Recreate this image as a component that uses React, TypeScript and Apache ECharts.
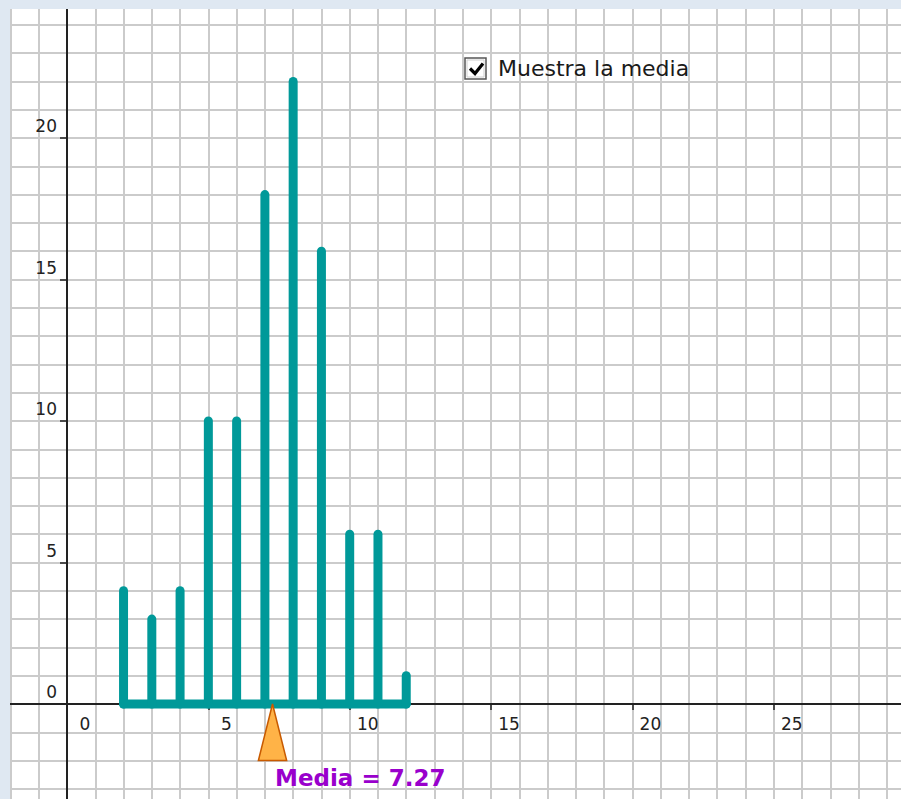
import React, { useEffect, useRef } from 'react';
import * as echarts from 'echarts';

// ---- data ----
const values = [2, 3, 4, 5, 6, 7, 8, 9, 10, 11, 12];
const counts = [4, 3, 4, 10, 10, 18, 22, 16, 6, 6, 1];
const xTickLabels = [0, 5, 10, 15, 20, 25];
const yTickLabels = [0, 5, 10, 15, 20];
const checkboxLabel = 'Muestra la media';
const meanLabelPrefix = 'Media = ';

// ---- layout ----
const W = 901;
const H = 799;
const ORIGIN_X = 67;
const ORIGIN_Y = 704;
const UX = 28.27;
const UY = 28.3;
const X_MIN = -5;
const X_MAX = 30;
const Y_MIN = -5;
const Y_MAX = 25;

const TEAL = '#009999';
const GRID_COLOR = '#cbcbcb';
const AXIS_COLOR = '#222222';
const FRAME = '#dfe8f2';
const FONT = 'DejaVu Sans';

export default function App() {
  const ref = useRef<HTMLDivElement>(null);

  useEffect(() => {
    if (!ref.current) return;
    const chart = echarts.init(ref.current, undefined, { renderer: 'svg' });

    const total = counts.reduce((a, b) => a + b, 0);
    const mean = values.reduce((s, v, i) => s + v * counts[i], 0) / total;
    const barData = values.map((v, i) => [v, counts[i]]);
    const baseData = [
      [Math.min(...values), 0],
      [Math.max(...values), 0],
    ];

    const gridLine = { show: true, lineStyle: { color: GRID_COLOR, width: 2 } };
    const labelStyle = { fill: AXIS_COLOR, font: `17px "${FONT}"` };

    const option: any = {
      animation: false,
      backgroundColor: '#ffffff',
      grid: {
        left: ORIGIN_X + X_MIN * UX,
        top: ORIGIN_Y - Y_MAX * UY,
        width: (X_MAX - X_MIN) * UX,
        height: (Y_MAX - Y_MIN) * UY,
        containLabel: false,
        outerBoundsMode: 'none',
      },
      xAxis: {
        type: 'value',
        min: X_MIN,
        max: X_MAX,
        interval: 5,
        axisLine: { show: true, onZero: true, lineStyle: { color: AXIS_COLOR, width: 2 } },
        axisTick: { show: true, length: 6, lineStyle: { color: AXIS_COLOR, width: 1.5 } },
        minorTick: { show: false, splitNumber: 5 },
        splitLine: gridLine,
        minorSplitLine: gridLine,
        axisLabel: { show: false },
      },
      yAxis: {
        type: 'value',
        min: Y_MIN,
        max: Y_MAX,
        interval: 5,
        axisLine: { show: true, onZero: true, lineStyle: { color: AXIS_COLOR, width: 2 } },
        axisTick: { show: true, length: 7, lineStyle: { color: AXIS_COLOR, width: 1.5 } },
        minorTick: { show: false, splitNumber: 5 },
        splitLine: gridLine,
        minorSplitLine: gridLine,
        axisLabel: { show: false },
      },
      series: [
        {
          type: 'line',
          data: baseData,
          symbol: 'none',
          silent: true,
          z: 3,
          lineStyle: { color: TEAL, width: 9, cap: 'round' },
        },
        {
          type: 'custom',
          data: barData,
          z: 4,
          silent: true,
          renderItem: (params: any, api: any) => {
            const x = api.value(0);
            const y = api.value(1);
            const p0 = api.coord([x, 0]);
            const p1 = api.coord([x, y]);
            return {
              type: 'line',
              shape: { x1: p0[0], y1: p0[1], x2: p1[0], y2: p1[1] },
              style: { stroke: TEAL, lineWidth: 9, lineCap: 'round' },
            };
          },
        },
        {
          // x-axis tick labels
          type: 'custom',
          data: xTickLabels.map((v) => [v, 0]),
          z: 6,
          silent: true,
          renderItem: (params: any, api: any) => {
            const v = api.value(0);
            const p = api.coord([v, 0]);
            return {
              type: 'text',
              x: p[0] + 18,
              y: p[1] + 19.5,
              style: { ...labelStyle, text: String(v), textAlign: 'center', textVerticalAlign: 'middle' },
            };
          },
        },
        {
          // y-axis tick labels
          type: 'custom',
          data: yTickLabels.map((v) => [0, v]),
          z: 6,
          silent: true,
          renderItem: (params: any, api: any) => {
            const v = api.value(1);
            const p = api.coord([0, v]);
            return {
              type: 'text',
              x: p[0] - 10,
              y: p[1] - 12,
              style: { ...labelStyle, text: String(v), textAlign: 'right', textVerticalAlign: 'middle' },
            };
          },
        },
        {
          type: 'custom',
          data: [[mean, 0]],
          z: 5,
          silent: true,
          renderItem: (params: any, api: any) => {
            const m = api.value(0);
            const apex = api.coord([m, 0]);
            const l = api.coord([m - 0.5, -2]);
            const r = api.coord([m + 0.5, -2]);
            return {
              type: 'group',
              children: [
                {
                  type: 'polygon',
                  shape: { points: [apex, l, r] },
                  style: { fill: '#ffb347', stroke: '#c85a00', lineWidth: 1.5 },
                },
                {
                  type: 'text',
                  x: apex[0] + 2.5,
                  y: l[1] + 17.5,
                  style: {
                    text: meanLabelPrefix + m.toFixed(2),
                    fill: '#9900cc',
                    font: `bold 23px "${FONT}"`,
                    textAlign: 'left',
                    textVerticalAlign: 'middle',
                  },
                },
              ],
            };
          },
        },
      ],
      graphic: [
        {
          type: 'rect',
          z: 100,
          silent: true,
          shape: { x: 0, y: 0, width: W, height: 9 },
          style: { fill: FRAME },
        },
        {
          type: 'rect',
          z: 100,
          silent: true,
          shape: { x: 0, y: 0, width: 10, height: H },
          style: { fill: FRAME },
        },
        {
          type: 'group',
          x: 465,
          y: 58,
          z: 100,
          children: [
            {
              type: 'rect',
              shape: { x: 0, y: 0, width: 21, height: 21 },
              style: { fill: '#ffffff', stroke: '#555555', lineWidth: 1.5 },
            },
            {
              type: 'rect',
              shape: { x: 2, y: 2, width: 17, height: 17 },
              style: { fill: 'none', stroke: '#cfcfcf', lineWidth: 1 },
            },
            {
              type: 'polyline',
              shape: { points: [[5, 10.5], [10, 15.5], [18, 5.5]] },
              style: { stroke: '#000000', lineWidth: 3.2, fill: 'none' },
            },
          ],
        },
        {
          type: 'text',
          z: 100,
          x: 498,
          y: 68.5,
          style: {
            text: checkboxLabel,
            fill: '#1a1a1a',
            font: `22px "${FONT}"`,
            textAlign: 'left',
            textVerticalAlign: 'middle',
          },
        },
      ],
    };

    chart.setOption(option);
    return () => chart.dispose();
  }, []);

  return (
    <div
      ref={ref}
      style={{ position: 'fixed', left: 0, top: 0, width: W, height: H, background: '#ffffff' }}
    />
  );
}
